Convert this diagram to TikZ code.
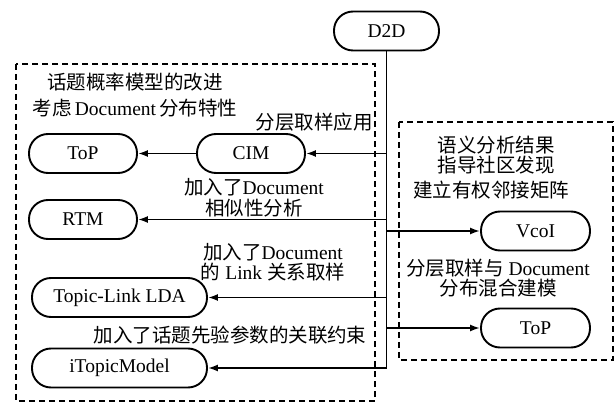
\documentclass[tikz,border=0pt]{standalone}
\usepackage{fontspec}
\setmainfont{Liberation Serif}
\newfontfamily\cjk{Noto Sans CJK SC}
\newcommand{\zh}[1]{{\cjk #1}}
\usetikzlibrary{arrows.meta}
\begin{document}
\begin{tikzpicture}[x=1pt,y=-1pt,
 every node/.style={font=\fontsize{19.5}{20.5}\selectfont},
 pill/.style={draw, line width=1.9pt, rounded corners=19pt, minimum height=39pt, inner sep=0pt},
 lbl/.style={inner sep=0pt, align=center},
 conn/.style={line width=1.8pt},
 arr/.style={conn, -{Latex[length=10pt,width=7pt]}},
 dbox/.style={draw, line width=1.5pt, dash pattern=on 6pt off 4pt}]
\useasboundingbox (0,0) rectangle (616,403);
% dashed group boxes
\draw[dbox] (16,64) rectangle (375,401);
\draw[dbox] (399,122) rectangle (613,360);
% nodes
\node[pill, minimum width=105pt] (d2d) at (386.5,31) {D2D};
\node[pill, minimum width=108pt] (topl) at (83,153.5) {ToP};
\node[pill, minimum width=108pt] (cim) at (251,153.5) {CIM};
\node[pill, minimum width=108pt] (rtm) at (83,219.5) {RTM};
\node[pill, minimum width=175pt] (tll) at (119.5,297.5) {Topic-Link LDA};
\node[pill, minimum width=175pt] (itm) at (119.5,368) {iTopicModel};
\node[pill, minimum width=109pt] (vcoi) at (535.5,231) {VcoI};
\node[pill, minimum width=109pt] (topr) at (535.5,328) {ToP};
% trunk coordinates
\coordinate (t1) at (386.5,153.5);
\coordinate (t2) at (386.5,219.5);
\coordinate (t3) at (386.5,231);
\coordinate (t4) at (386.5,297.5);
\coordinate (t5) at (386.5,328);
\coordinate (t6) at (386.5,368);
% connectors
\draw[conn] (d2d.south) -- (t6);
\draw[arr] (t1) -- (cim.east);
\draw[arr] (cim.west) -- (topl.east);
\draw[arr] (t2) -- (rtm.east);
\draw[arr] (t3) -- (vcoi.west);
\draw[arr] (t4) -- (tll.east);
\draw[arr] (t5) -- (topr.west);
\draw[arr] (t6) -- (itm.east);
% labels
\node[lbl] (title) at (135,95) {\zh{话题概率模型的改进}\\[5.5pt]\zh{考虑}\,Document\,\zh{分布特性}};
\node[lbl, anchor=east] (l1) at (373,122) {\zh{分层取样应用}};
\node[lbl] (l2) at (254,197.5) {\zh{加入了}Document\\\zh{相似性分析}};
\node[lbl] (l3) at (273,262) {\zh{加入了}Document\\\zh{的} Link \zh{关系取样}};
\node[lbl] (l4) at (230,335) {\zh{加入了话题先验参数的关联约束}};
\node[lbl] (r1) at (496,155) {\zh{语义分析结果}\\\zh{指导社区发现}};
\node[lbl] (r2) at (491,190) {\zh{建立有权邻接矩阵}};
\node[lbl] (r3) at (498,278) {\zh{分层取样与} Document\\\zh{分布混合建模}};
\end{tikzpicture}
\end{document}
